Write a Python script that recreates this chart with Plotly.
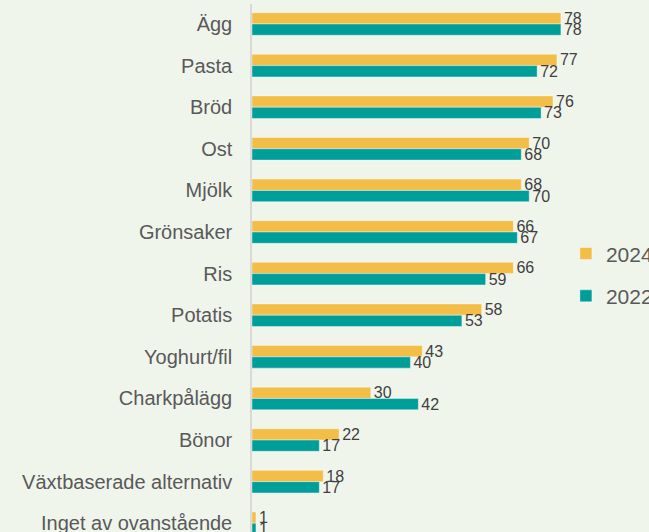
import plotly.graph_objects as go

categories = ["Ägg", "Pasta", "Bröd", "Ost", "Mjölk", "Grönsaker", "Ris", "Potatis",
              "Yoghurt/fil", "Charkpålägg", "Bönor", "Växtbaserade alternativ",
              "Inget av ovanstående"]
values_2024 = [78, 77, 76, 70, 68, 66, 66, 58, 43, 30, 22, 18, 1]
values_2022 = [78, 72, 73, 68, 70, 67, 59, 53, 40, 42, 17, 17, 1]
series_names = ["2024", "2022"]

YELLOW = "#F2BE48"
TEAL = "#009E99"
BG = "#F0F5EC"
TEXT = "#595959"

fig = go.Figure()
for name, vals, col in [(series_names[0], values_2024, YELLOW),
                        (series_names[1], values_2022, TEAL)]:
    fig.add_trace(go.Bar(
        y=categories, x=vals, name=name, orientation="h", legendgroup=name,
        marker=dict(color=col, line=dict(color="rgba(255,255,255,0.5)", width=0.8)),
        text=[str(v) for v in vals], textposition="outside",
        textfont=dict(size=16, color="#404040", family="Liberation Sans"),
        cliponaxis=False, constraintext="none",
    ))

fig.update_layout(
    width=649, height=532,
    margin=dict(l=252, r=77, t=4, b=0, autoexpand=False),
    paper_bgcolor=BG, plot_bgcolor=BG,
    barmode="group", bargap=0.457, bargroupgap=0,
    font=dict(family="Liberation Sans", color=TEXT, size=18),
    legend=dict(x=0.981, y=0.487, xanchor="left", yanchor="middle",
                traceorder="grouped", font=dict(size=21, color=TEXT),
                bgcolor="rgba(0,0,0,0)", tracegroupgap=12),
)
fig.update_xaxes(range=[0, 80.8], showgrid=False, showticklabels=False,
                 zeroline=False, showline=False, fixedrange=True)
fig.update_yaxes(range=[12.21, -0.48], showgrid=False, zeroline=False,
                 showline=True, linecolor="#D9D9D9", linewidth=1.5,
                 ticks="", ticklabelstandoff=14,
                 tickfont=dict(size=20, color=TEXT, family="Liberation Sans"))

fig.write_html("out.html", config={"displayModeBar": False},
               post_script="document.body.style.margin='0';document.body.style.overflow='hidden';")
